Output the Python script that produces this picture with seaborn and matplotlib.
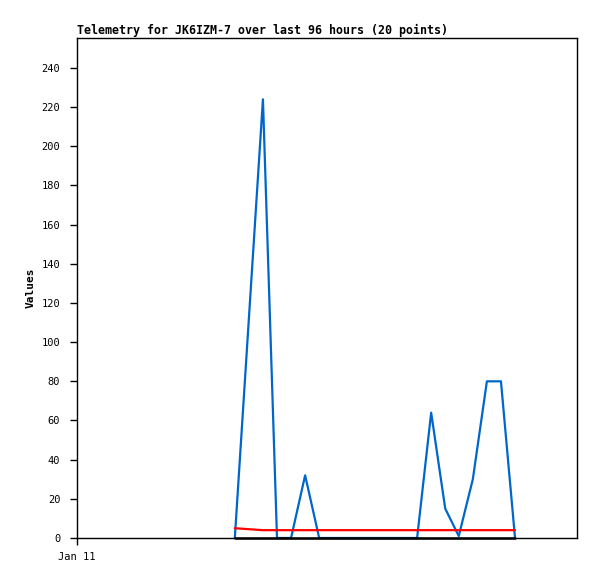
import matplotlib
matplotlib.use("Agg")
import matplotlib.pyplot as plt
import seaborn as sns
import pandas as pd

# hours since start of window (Jan 11 00:00)
hours = [30.3, 35.7, 38.4, 41.1, 43.8, 46.5, 49.2, 51.8, 54.5, 57.2,
         59.9, 62.6, 65.3, 68.0, 70.7, 73.3, 76.0, 78.7, 81.4, 84.1]
series_blue = [0, 224, 0, 0, 32, 0, 0, 0, 0, 0,
               0, 0, 0, 64, 15, 1, 30, 80, 80, 0]
series_red = [5, 4, 4, 4, 4, 4, 4, 4, 4, 4,
              4, 4, 4, 4, 4, 4, 4, 4, 4, 4]
series_black = [0] * 20
title = "Telemetry for JK6IZM-7 over last 96 hours (20 points)"
y_ticks = list(range(0, 241, 20))
x_tick_pos = [0]
x_tick_labels = ["Jan 11"]

sns.set_style("white")
plt.rcParams['font.family'] = ['DejaVu Sans Mono', 'DejaVu Sans']
plt.rcParams['text.color'] = 'black'
plt.rcParams['axes.labelcolor'] = 'black'

fig = plt.figure(figsize=(5.97, 5.79), dpi=100)
ax = fig.add_axes([77/597, 41/579, 500/597, 500/579])

df = pd.DataFrame({"t": hours, "blue": series_blue, "red": series_red, "black": series_black})
for col, color, lw in [("blue", "#0066cc", 1.6), ("red", "#ff0000", 1.6), ("black", "#000000", 1.8)]:
    sns.lineplot(data=df, x="t", y=col, ax=ax, color=color, linewidth=lw, clip_on=False)

ax.set_xlim(0, 96)
ax.set_ylim(0, 255.3)
ax.set_yticks(y_ticks)
ax.set_yticklabels([str(v) for v in y_ticks], fontsize=7.5)
ax.set_xticks(x_tick_pos)
ax.set_xticklabels(x_tick_labels, fontsize=7.5)
ax.tick_params(axis='y', direction='out', length=5, width=1, pad=7, colors='black', left=True)
ax.tick_params(axis='x', direction='out', length=5, width=1, pad=5, colors='black', bottom=True)
for s in ax.spines.values():
    s.set_color('black')
    s.set_linewidth(1)
ax.set_xlabel("")
ax.set_ylabel("Values", fontsize=8, fontweight='bold', labelpad=4, color='black')
ax.set_title(title, loc='left', fontsize=8.35, fontweight='bold', pad=3, color='black')

fig.savefig("out.png", dpi=100, facecolor='white')
